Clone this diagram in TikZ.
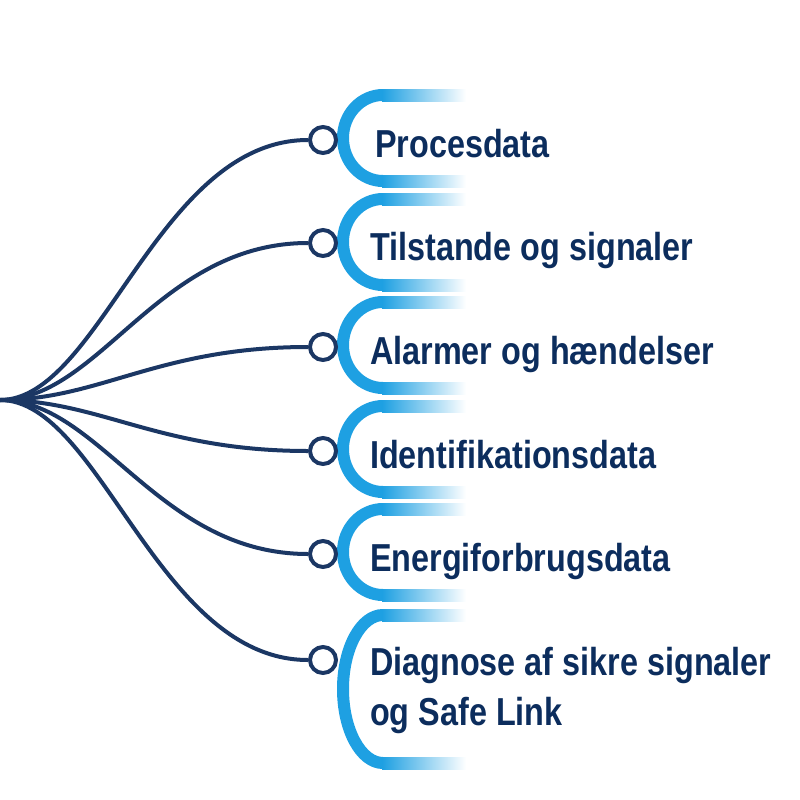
\documentclass[tikz,border=0pt]{standalone}
\usepackage{fontspec}
\setmainfont{Liberation Sans}[FakeStretch=0.83]
\definecolor{navy}{HTML}{1B3764}
\definecolor{ink}{HTML}{0C2D5D}
\definecolor{sky}{HTML}{1EA0E2}
\tikzset{
  wire/.style={draw=navy, line width=4pt},
  port/.style={circle, draw=navy, line width=4pt, fill=white, minimum size=26pt, inner sep=0pt},
  label/.style={anchor=base west, text=ink, font=\fontsize{39}{50}\selectfont\bfseries, align=left, inner sep=0pt}
}
% bracket: center y, half height
\newcommand{\brk}[2]{%
  \draw[sky, line width=12pt] (383,#1) ++(0,#2) arc[start angle=90, end angle=270, x radius=40, y radius=#2];
  \shade[left color=sky, right color=white] (382,#1-#2-6) rectangle (466,#1-#2+6);
  \shade[left color=sky, right color=white] (382,#1+#2-6) rectangle (466,#1+#2+6);
}
\begin{document}
\begin{tikzpicture}[x=1pt, y=-1pt]

  \useasboundingbox (0,0) rectangle (800,800);

  % brackets
  \brk{138}{43}
  \brk{242}{43}
  \brk{345}{43}
  \brk{449}{43}
  \brk{552}{43}
  \brk{689}{74}

  % wires
  \coordinate (hub) at (0,400);
  \foreach \i/\y in {1/140, 2/243, 3/347, 4/451, 5/554, 6/660} {
    \coordinate (e\i) at (308,\y);
    \draw[wire] (hub) .. controls +(100,0) and +(-150,0) .. (e\i);
  }

  % ports
  \foreach \i/\y in {1/140, 2/243, 3/347, 4/451, 5/554, 6/660}
    \node[port] (c\i) at (323,\y) {};

  % labels
  \node[label] (t1) at (375,157) {Procesdata};
  \node[label] (t2) at (370,260) {Tilstande og signaler};
  \node[label] (t3) at (370,364) {Alarmer og hændelser};
  \node[label] (t4) at (370,468) {Identifikationsdata};
  \node[label] (t5) at (370,571) {Energiforbrugsdata};
  \node[label] (t6) at (370,725) {Diagnose af sikre signaler\\og Safe Link};

\end{tikzpicture}
\end{document}
